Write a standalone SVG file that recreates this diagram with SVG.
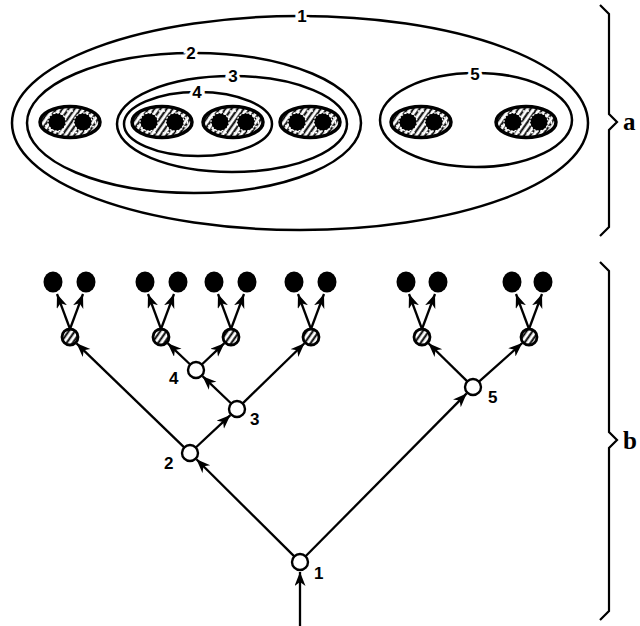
<svg xmlns="http://www.w3.org/2000/svg" width="640" height="626" viewBox="0 0 640 626">
<defs>
<pattern id="hatch" patternUnits="userSpaceOnUse" width="5" height="10" patternTransform="rotate(35)">
<rect width="5" height="10" fill="#fff"/>
<line x1="1.3" y1="0" x2="1.3" y2="10" stroke="#000" stroke-width="2"/>
</pattern>
<marker id="ah" markerUnits="userSpaceOnUse" markerWidth="16" markerHeight="12" refX="14" refY="5.5" orient="auto">
<path d="M0,0 L14,5.5 L0,11 L4,5.5 Z" fill="#000"/>
</marker>
<g id="hel">
<ellipse rx="30" ry="15.5" fill="url(#hatch)" stroke="#000" stroke-width="3.5"/>
<ellipse rx="25.5" ry="11" fill="none" stroke="#fff" stroke-width="1.5" stroke-dasharray="2 2.5"/>
<circle cx="-13" cy="0" r="9" fill="#000" stroke="#fff" stroke-width="1.2" stroke-dasharray="2 1.5"/>
<circle cx="13" cy="0" r="9" fill="#000" stroke="#fff" stroke-width="1.2" stroke-dasharray="2 1.5"/>
</g>
</defs>
<style>
.ring{fill:none;stroke:#000;stroke-width:2.5}
.lbl{font-family:"Liberation Sans",Arial,sans-serif;font-weight:bold;font-size:17px;text-anchor:middle;fill:#000;stroke:#fff;stroke-width:6;paint-order:stroke}
.nlbl{font-family:"Liberation Sans",Arial,sans-serif;font-weight:bold;font-size:17px;fill:#000}
.side{font-family:"Liberation Serif","Times New Roman",serif;font-weight:bold;font-size:25px;fill:#000}
.edge{stroke:#000;stroke-width:2.3;fill:none;marker-end:url(#ah)}
.open{fill:#fff;stroke:#000;stroke-width:2.4}
.hc{fill:url(#hatch);stroke:#000;stroke-width:2.8}
.dot{fill:#000}
.brace{fill:none;stroke:#000;stroke-width:2.2}
</style>

<!-- panel a -->
<g id="set1"><ellipse class="ring" cx="300" cy="123" rx="288" ry="107"/><text class="lbl" x="302" y="22">1</text></g>
<g id="set2"><ellipse class="ring" cx="194" cy="123" rx="167" ry="70"/><text class="lbl" x="191" y="59">2</text></g>
<g id="set3"><ellipse class="ring" cx="232" cy="124" rx="115" ry="48"/><text class="lbl" x="233" y="82">3</text></g>
<g id="set4"><ellipse class="ring" cx="198" cy="124" rx="74" ry="32"/><text class="lbl" x="197" y="98">4</text></g>
<g id="set5"><ellipse class="ring" cx="476" cy="120" rx="96" ry="47"/><text class="lbl" x="475" y="80">5</text></g>
<g id="pairA1"><use href="#hel" x="70" y="122"/></g>
<g id="pairA2"><use href="#hel" x="162" y="122"/></g>
<g id="pairA3"><use href="#hel" x="233" y="122"/></g>
<g id="pairA4"><use href="#hel" x="310" y="122"/></g>
<g id="pairA5"><use href="#hel" x="421" y="122"/></g>
<g id="pairA6"><use href="#hel" x="526" y="122"/></g>

<!-- braces -->
<g id="braceA"><path class="brace" d="M600,5 L609,14 L609,114 L617,122 L609,130 L609,227 L600,236"/><text class="side" x="623" y="130">a</text></g>
<g id="braceB"><path class="brace" d="M600,262 L609,271 L609,432 L617,440 L609,448 L609,611 L600,620"/><text class="side" x="623" y="449">b</text></g>

<!-- panel b connectors -->
<g id="connectors">
<path class="edge" d="M300,626 L300,572"/>
<path class="edge" d="M294.3,556.4 L196.4,459.3"/>
<path class="edge" d="M305.6,556.3 L466.7,393.4"/>
<path class="edge" d="M184.2,447.4 L76.5,343.3"/>
<path class="edge" d="M195.8,447.5 L230.4,415.1"/>
<path class="edge" d="M231.2,403.5 L202.5,376.2"/>
<path class="edge" d="M242.7,403.4 L304.5,343.3"/>
<path class="edge" d="M190.2,364.5 L167.6,343.2"/>
<path class="edge" d="M201.8,364.5 L224.4,343.2"/>
<path class="edge" d="M467.3,381.4 L428.4,343.3"/>
<path class="edge" d="M479,381.7 L522.3,343"/>
<path class="edge" d="M70,329 L57,294"/><path class="edge" d="M70,329 L83,294"/>
<path class="edge" d="M161,329 L148,294"/><path class="edge" d="M161,329 L174,294"/>
<path class="edge" d="M231,329 L218,294"/><path class="edge" d="M231,329 L244,294"/>
<path class="edge" d="M311,329 L298,294"/><path class="edge" d="M311,329 L324,294"/>
<path class="edge" d="M422,329 L409,294"/><path class="edge" d="M422,329 L435,294"/>
<path class="edge" d="M529,329 L516,294"/><path class="edge" d="M529,329 L542,294"/>
</g>

<!-- panel b nodes -->
<g id="n1"><circle class="open" cx="300" cy="562" r="8"/><text class="nlbl" x="314" y="579">1</text></g>
<g id="n2"><circle class="open" cx="190" cy="453" r="8"/><text class="nlbl" x="164" y="469">2</text></g>
<g id="n3"><circle class="open" cx="237" cy="409" r="8"/><text class="nlbl" x="250" y="425">3</text></g>
<g id="n4"><circle class="open" cx="196" cy="370" r="8"/><text class="nlbl" x="169" y="384">4</text></g>
<g id="n5"><circle class="open" cx="473" cy="387" r="8"/><text class="nlbl" x="488" y="403">5</text></g>
<g id="h1"><circle class="hc" cx="70" cy="337" r="8"/></g>
<g id="h2"><circle class="hc" cx="161" cy="337" r="8"/></g>
<g id="h3"><circle class="hc" cx="231" cy="337" r="8"/></g>
<g id="h4"><circle class="hc" cx="311" cy="337" r="8"/></g>
<g id="h5"><circle class="hc" cx="422" cy="337" r="8"/></g>
<g id="h6"><circle class="hc" cx="529" cy="337" r="8"/></g>
<g id="d1"><ellipse class="dot" cx="53" cy="282" rx="9.5" ry="10.5"/><ellipse class="dot" cx="86" cy="282" rx="9.5" ry="10.5"/></g>
<g id="d2"><ellipse class="dot" cx="145" cy="282" rx="9.5" ry="10.5"/><ellipse class="dot" cx="178" cy="282" rx="9.5" ry="10.5"/></g>
<g id="d3"><ellipse class="dot" cx="214" cy="282" rx="9.5" ry="10.5"/><ellipse class="dot" cx="247" cy="282" rx="9.5" ry="10.5"/></g>
<g id="d4"><ellipse class="dot" cx="294" cy="282" rx="9.5" ry="10.5"/><ellipse class="dot" cx="327" cy="282" rx="9.5" ry="10.5"/></g>
<g id="d5"><ellipse class="dot" cx="406" cy="282" rx="9.5" ry="10.5"/><ellipse class="dot" cx="438" cy="282" rx="9.5" ry="10.5"/></g>
<g id="d6"><ellipse class="dot" cx="512" cy="282" rx="9.5" ry="10.5"/><ellipse class="dot" cx="543" cy="282" rx="9.5" ry="10.5"/></g>
</svg>
